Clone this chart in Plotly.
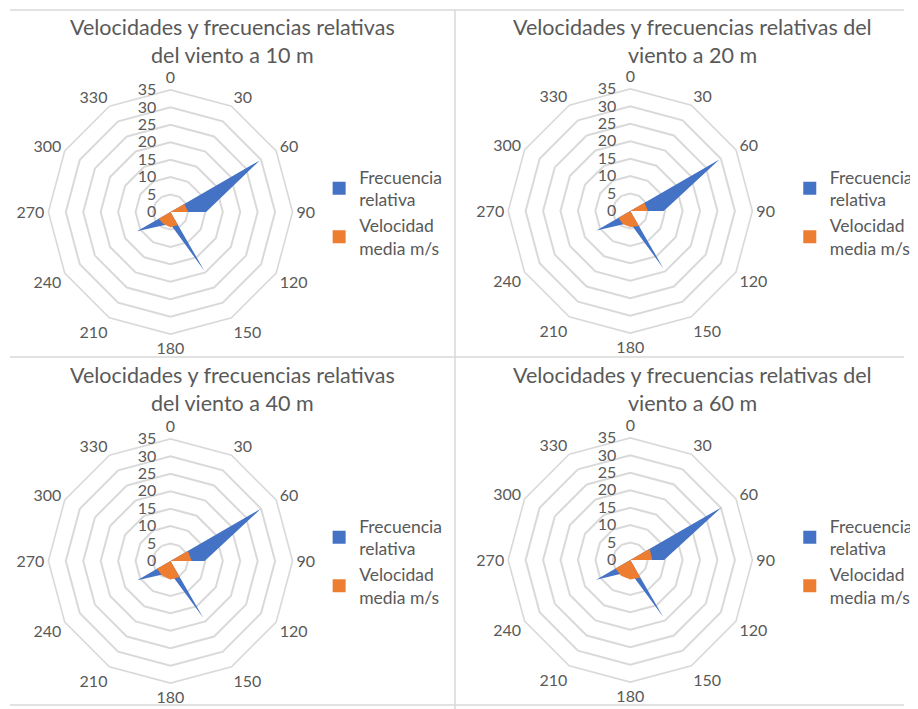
import plotly.graph_objects as go

# ---------------- data ----------------
directions = ["0", "30", "60", "90", "120", "150", "180", "210", "240", "270", "300", "330"]
radial_ticks = [0, 5, 10, 15, 20, 25, 30, 35]

freq_10 = [0, 0, 29.5, 10.2, 0, 19.5, 3.5, 4.5, 11.1, 0, 0, 0]
vel_10 = [0, 0, 4.6, 5.1, 0, 4.3, 4.4, 4.0, 3.9, 0, 0, 0]

freq_20 = [0, 0, 29.5, 9.6, 0, 19.0, 3.5, 4.5, 11.2, 0, 0, 0]
vel_20 = [0, 0, 4.7, 5.1, 0, 5.0, 4.6, 4.3, 3.9, 0, 0, 0]

freq_40 = [0, 0, 29.9, 9.8, 0, 18.8, 3.5, 4.5, 11.0, 0, 0, 0]
vel_40 = [0, 0, 5.8, 6.1, 0, 5.3, 5.3, 4.8, 4.5, 0, 0, 0]

freq_60 = [0, 0, 30.3, 9.7, 0, 18.9, 3.5, 4.5, 11.3, 0, 0, 0]
vel_60 = [0, 0, 6.4, 6.3, 0, 5.8, 5.6, 5.2, 4.9, 0, 0, 0]

title_line1 = ["Velocidades y frecuencias relativas",
               "Velocidades y frecuencias relativas del",
               "Velocidades y frecuencias relativas",
               "Velocidades y frecuencias relativas del"]
title_line2 = ["del viento a 10 m", "viento a 20 m", "del viento a 40 m", "viento a 60 m"]
series_names = ["Frecuencia<br>relativa", "Velocidad<br>media m/s"]

panels = [(freq_10, vel_10), (freq_20, vel_20), (freq_40, vel_40), (freq_60, vel_60)]

# ---------------- style ----------------
OFF = 8                      # default page margin of the browser body
W, H = 918 - OFF, 709 - OFF
BLUE = "#4472C4"
ORANGE = "#ED7D31"
GRID = "#D9D9D9"
TXT = "#595959"
FONT = "Lato"

centers = [(173, 212), (640, 211), (173, 561), (640, 560)]
R = 124
title_x = [236, 703, 236, 703]
title_y = [(27, 55), (27, 55), (375, 403), (375, 403)]
legend_pos = [(324, 159), (802, 159), (324, 508), (802, 508)]


def px_x(x):
    return (x - OFF) / W


def px_y(y):
    return 1 - (y - OFF) / H


fig = go.Figure()
layout = dict(
    width=W, height=H,
    margin=dict(l=0, r=0, t=0, b=0),
    paper_bgcolor="white", plot_bgcolor="white",
    font=dict(family=FONT, color=TXT, size=15),
)

annotations = []
for i, (freq, vel) in enumerate(panels):
    pid = "polar" if i == 0 else f"polar{i+1}"
    lid = "legend" if i == 0 else f"legend{i+1}"
    cx, cy = centers[i]
    layout[pid] = dict(
        domain=dict(x=[px_x(cx - R), px_x(cx + R)], y=[px_y(cy + R), px_y(cy - R)]),
        gridshape="linear",
        bgcolor="white",
        angularaxis=dict(
            type="category", categoryarray=directions, direction="clockwise", rotation=90,
            showgrid=False, showline=True, linecolor=GRID, linewidth=1.6,
            ticks="", tickfont=dict(size=16, color=TXT, family=FONT),
        ),
        radialaxis=dict(
            range=[0, 35], tickvals=radial_ticks, angle=90, tickangle=90,
            side="counterclockwise", showline=False, gridcolor=GRID, gridwidth=1.6,
            ticks="outside", ticklen=8, tickcolor="rgba(0,0,0,0)",
            tickfont=dict(size=16, color=TXT, family=FONT),
        ),
    )
    sub = pid
    fig.add_trace(go.Scatterpolar(
        r=freq, theta=directions, subplot=sub, mode="none", fill="toself",
        fillcolor=BLUE, name=series_names[0], showlegend=False, hoverinfo="r+theta",
    ))
    fig.add_trace(go.Scatterpolar(
        r=vel, theta=directions, subplot=sub, mode="none", fill="toself",
        fillcolor=ORANGE, name=series_names[1], showlegend=False, hoverinfo="r+theta",
    ))
    # legend entries (square markers like the spreadsheet legend)
    for name, col in zip(series_names, [BLUE, ORANGE]):
        fig.add_trace(go.Scatterpolar(
            r=[None], theta=[None], subplot=sub, mode="markers", name=name,
            marker=dict(symbol="square", size=13, color=col), legend=lid,
        ))
    lx, ly = legend_pos[i]
    layout[lid] = dict(
        x=px_x(lx), y=px_y(ly), xanchor="left", yanchor="top",
        bgcolor="rgba(0,0,0,0)", font=dict(size=17.5, color=TXT, family=FONT),
        itemwidth=30, valign="middle",
    )
    annotations.append(dict(
        text=title_line1[i], x=px_x(title_x[i]), y=px_y(title_y[i][0]), xref="paper", yref="paper",
        showarrow=False, xanchor="center", yanchor="middle",
        font=dict(size=21.5, color=TXT, family=FONT),
    ))
    annotations.append(dict(
        text=title_line2[i], x=px_x(title_x[i]), y=px_y(title_y[i][1]), xref="paper", yref="paper",
        showarrow=False, xanchor="center", yanchor="middle",
        font=dict(size=21.5, color=TXT, family=FONT),
    ))

shapes = [
    dict(type="line", xref="paper", yref="paper", x0=px_x(10), x1=1, y0=px_y(10), y1=px_y(10),
         line=dict(color=GRID, width=1.5)),
    dict(type="line", xref="paper", yref="paper", x0=px_x(10), x1=1, y0=px_y(357), y1=px_y(357),
         line=dict(color=GRID, width=1.5)),
    dict(type="line", xref="paper", yref="paper", x0=px_x(10), x1=1, y0=px_y(705), y1=px_y(705),
         line=dict(color=GRID, width=1.5)),
    dict(type="line", xref="paper", yref="paper", x0=px_x(462), x1=px_x(462), y0=px_y(10), y1=0,
         line=dict(color=GRID, width=1.5)),
]

layout["annotations"] = annotations
layout["shapes"] = shapes
fig.update_layout(**layout)
fig.write_html("out.html")
